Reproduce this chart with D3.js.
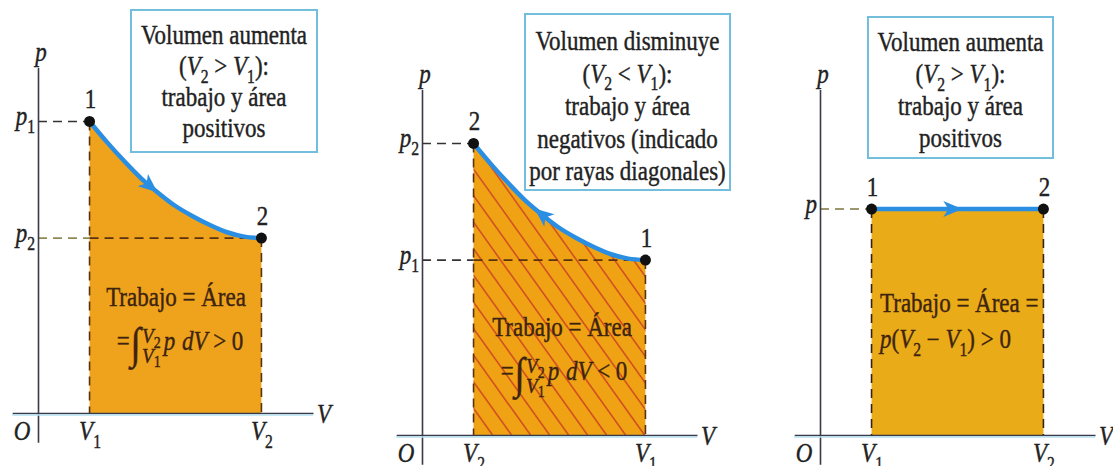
<!DOCTYPE html>
<html>
<head>
<meta charset="utf-8">
<script src="https://cdn.jsdelivr.net/npm/d3@7"></script>
<style>
  html, body { margin: 0; padding: 0; background: #fff; }
  svg { display: block; }
  text { font-family: "Liberation Serif", "Times New Roman", "DejaVu Serif", serif; white-space: pre; }
</style>
</head>
<body>
<svg id="chart" width="1113" height="466"></svg>
<script>
// ---- process data (V and p in arbitrary units) ----
// curved path shared by the expansion (left) and compression (middle) diagrams
const curveV = [3, 4, 5, 6, 7, 8, 9, 10, 11, 12, 13];
const curveP = [20, 18.6, 17.3, 16.1, 15.1, 14.2, 13.5, 12.9, 12.4, 12.1, 12];
// constant-pressure path (right)
const isobarV = [3, 13];
const isobarP = [15.5, 15.5];

const vLow = 3, vHigh = 13;
const pHigh = 20, pLow = 12, pConst = 15.5;

// ---- labels (markup: *..* italic, _x subscript) ----
const boxText1 = ["Volumen aumenta", "(*V*_2 > *V*_1):", "trabajo y área", "positivos"];
const boxText2 = ["Volumen disminuye", "(*V*_2 < *V*_1):", "trabajo y área", "negativos (indicado", "por rayas diagonales)"];
const boxText3 = ["Volumen aumenta", "(*V*_2 > *V*_1):", "trabajo y área", "positivos"];

const pTicks1 = ["*p*_1", "*p*_2"];
const vTicks1 = ["*V*_1", "*V*_2"];
const pTicks2 = ["*p*_2", "*p*_1"];
const vTicks2 = ["*V*_2", "*V*_1"];
const pTicks3 = ["*p*"];
const vTicks3 = ["*V*_1", "*V*_2"];

const workLine = "Trabajo = Área";
const workLine3 = ["Trabajo = Área =", "*p*(*V*_2 − *V*_1) > 0"];

const SY = 1.15;            // serif lettering is set slightly tall
const BLUE = "#2a8ee2";
const INK = "#222";
const BROWN = "#3d2410";

const svg = d3.select("#chart");

function parseMarkup(s) {
  const segs = [];
  let italic = false, buf = "";
  const flush = () => { if (buf) { segs.push({ t: buf, it: italic, shift: 0 }); buf = ""; } };
  for (let i = 0; i < s.length; i++) {
    const c = s[i];
    if (c === "*") { flush(); italic = !italic; }
    else if (c === "_") { flush(); segs.push({ t: s[i + 1], it: false, shift: 1 }); i++; }
    else buf += c;
  }
  flush();
  return segs;
}

function fillRich(text, markup, size) {
  let cur = 0;
  parseMarkup(markup).forEach(seg => {
    const target = seg.shift ? size * 0.3 : 0;
    text.append("tspan")
      .text(seg.t)
      .attr("dy", target - cur)
      .style("font-style", seg.it ? "italic" : "normal")
      .style("font-size", (seg.shift ? size * 0.68 : size) + "px");
    cur = target;
  });
  return text;
}

function ink(t, color) {
  return t.style("fill", color).style("stroke", color).style("stroke-width", 0.35);
}

function richText(parent, x, y, markup, opts = {}) {
  const size = opts.size || 23;
  const g = parent.append("g").attr("transform", `translate(${x},${y}) scale(1,${SY})`);
  const t = g.append("text")
    .attr("text-anchor", opts.anchor || "middle")
    .style("font-size", size + "px");
  ink(t, opts.color || INK);
  fillRich(t, markup, size);
  return t;
}

// "=∫ (V2 over V1) p dV  rel 0"
function integralLine(parent, cx, y, rel, color) {
  const g = parent.append("g").attr("transform", `translate(${cx},${y}) scale(1,${SY})`);
  const t = g.append("text").attr("text-anchor", "middle").style("font-size", "23px");
  ink(t, color);
  t.append("tspan").text("=");
  t.append("tspan").text("∫").style("font-size", "38px").attr("dx", 1).attr("dy", 7);
  t.append("tspan").text("V").style("font-style", "italic").style("font-size", "19px").attr("dx", 1).attr("dy", -13);
  t.append("tspan").text("2").style("font-size", "14px").attr("dy", 4);
  t.append("tspan").text("V").style("font-style", "italic").style("font-size", "19px").attr("dx", -18.6).attr("dy", 13);
  t.append("tspan").text("1").style("font-size", "14px").attr("dy", 4);
  t.append("tspan").text("p").style("font-style", "italic").attr("dx", 3).attr("dy", -15);
  t.append("tspan").text(" ");
  t.append("tspan").text("dV").style("font-style", "italic").attr("dx", 1);
  t.append("tspan").text(` ${rel} 0`);
}

function drawPanel(cfg) {
  const g = svg.append("g").attr("transform", `translate(${cfg.ox},${cfg.oy})`);
  const x = d3.scaleLinear().domain([-1.5, 16]).range([-25.8, 275]);
  const y = d3.scaleLinear().domain([-2, 23.7]).range([29.2, -345.5]);

  const pts = cfg.V.map((v, i) => [v, cfg.P[i]]);
  const curve = pts.length > 2 ? d3.curveMonotoneX : d3.curveLinear;

  // work area under the path
  const area = d3.area().x(d => x(d[0])).y0(y(0)).y1(d => y(d[1])).curve(curve);
  g.append("path").attr("d", area(pts)).attr("fill", cfg.fill);

  // diagonal hatching for negative work
  if (cfg.hatch) {
    const id = "clip-" + cfg.id;
    g.append("clipPath").attr("id", id).append("path").attr("d", area(pts));
    const top = y(pHigh) - 10, bot = y(0), slope = 1.4;
    const x0 = x(d3.min(cfg.V)), x1 = x(d3.max(cfg.V));
    g.append("g").attr("clip-path", `url(#${id})`)
      .selectAll("line")
      .data(d3.range(x0 - (bot - top) / slope, x1 + 5, 19))
      .join("line")
      .attr("x1", d => d).attr("y1", top)
      .attr("x2", d => d + (bot - top) / slope).attr("y2", bot)
      .attr("stroke", "#cf4a2a").attr("stroke-width", 1.6).attr("opacity", 0.9);
  }

  // dashed guides
  const dash = "9,6";
  cfg.guides.forEach(gd => {
    g.append("line")
      .attr("x1", x(gd[0])).attr("y1", y(gd[1]))
      .attr("x2", x(gd[2])).attr("y2", y(gd[3]))
      .attr("stroke", gd[4]).attr("stroke-width", 1.6).attr("stroke-dasharray", dash);
  });

  // axes
  const xAxis = g.append("g")
    .call(d3.axisBottom(x).tickValues(cfg.vTickVals).tickSize(0).tickSizeOuter(0).tickFormat(() => ""));
  const yAxis = g.append("g")
    .call(d3.axisLeft(y).tickValues(cfg.pTickVals).tickSize(0).tickSizeOuter(0).tickFormat(() => ""));
  g.append("line").attr("x1", x(-1.5)).attr("x2", x(16)).attr("y1", 2).attr("y2", 2)
    .attr("stroke", "#b5e0f0").attr("stroke-width", 1.6);
  [xAxis, yAxis].forEach(a => a.attr("font-family", null).attr("font-size", null)
    .select(".domain").attr("stroke", "#3a3a48").attr("stroke-width", 1.6));

  xAxis.selectAll(".tick text").each(function (d, i) {
    const t = d3.select(this).text(null).attr("y", 0).attr("dy", 0)
      .attr("transform", `translate(0,27) scale(1,${SY})`)
      .attr("fill", null).style("font-size", "23px");
    ink(t, INK);
    fillRich(t, cfg.vLabels[i], 23);
  });
  yAxis.selectAll(".tick text").each(function (d, i) {
    const t = d3.select(this).text(null).attr("x", -3).attr("dy", 0)
      .attr("transform", `translate(0,3) scale(1,${SY})`)
      .attr("fill", null).style("font-size", "23px");
    ink(t, INK);
    fillRich(t, cfg.pLabels[i], 23);
  });

  richText(g, -16, 27, "*O*");
  richText(g, x(16) + 4, 10, "*V*", { anchor: "start" });
  richText(g, 3, -352, "*p*");

  // process path
  const line = d3.line().x(d => x(d[0])).y(d => y(d[1])).curve(curve);
  const pathSel = g.append("path").attr("d", line(pts))
    .attr("fill", "none").attr("stroke", BLUE).attr("stroke-width", 4.5).attr("stroke-linecap", "round");

  // direction arrow
  const node = pathSel.node();
  const total = node.getTotalLength();
  let lo = 0, hi = total;
  const tx = x(cfg.arrowV);
  for (let k = 0; k < 40; k++) {
    const mid = (lo + hi) / 2;
    if (node.getPointAtLength(mid).x < tx) lo = mid; else hi = mid;
  }
  const L = (lo + hi) / 2;
  const pa = node.getPointAtLength(Math.max(0, L - 2)), pb = node.getPointAtLength(Math.min(total, L + 2));
  let ang = Math.atan2(pb.y - pa.y, pb.x - pa.x) * 180 / Math.PI;
  if (cfg.reverse) ang += 180;
  const pc = node.getPointAtLength(L);
  g.append("path").attr("d", "M10,0 L-9,-8 L-4,0 L-9,8 Z")
    .attr("transform", `translate(${pc.x},${pc.y}) rotate(${ang})`)
    .attr("fill", BLUE);

  // end states
  cfg.states.forEach(s => {
    g.append("circle").attr("cx", x(s.v)).attr("cy", y(s.p)).attr("r", 5.5).attr("fill", "#111");
    richText(g, x(s.v) + 1, y(s.p) - 13, s.label);
  });

  // work annotation
  cfg.work(g);

  // caption box
  const b = cfg.box;
  svg.append("rect").attr("x", b.x).attr("y", b.y).attr("width", b.w).attr("height", b.h)
    .attr("fill", "#fff").attr("stroke", "#72bedc").attr("stroke-width", 2);
  b.lines.forEach((ln, i) => {
    richText(svg, b.x + b.w / 2, b.base + i * b.step, ln);
  });
}

drawPanel({
  id: "a", ox: 38, oy: 413,
  V: curveV, P: curveP, fill: "#efa31c", hatch: false,
  vTickVals: [vLow, vHigh], vLabels: vTicks1,
  pTickVals: [pHigh, pLow], pLabels: pTicks1,
  guides: [
    [0, pHigh, vLow, pHigh, "#333"],
    [0, pLow, vLow, pLow, "#8f8a55"],
    [vLow, pLow, vHigh, pLow, "#5a3212"],
    [vLow, pHigh, vLow, 0, "#5a3212"],
    [vHigh, pLow, vHigh, 0, "#5a3212"]
  ],
  arrowV: 6.5, reverse: false,
  states: [{ v: vLow, p: pHigh, label: "1" }, { v: vHigh, p: pLow, label: "2" }],
  work: g => {
    richText(g, 138, -107, workLine, { color: BROWN });
    integralLine(g, 142, -63, ">", BROWN);
  },
  box: { x: 131, y: 10, w: 186, h: 142, base: 44, step: 31, lines: boxText1 }
});

drawPanel({
  id: "b", ox: 422, oy: 435,
  V: curveV, P: curveP, fill: "#efa31c", hatch: true,
  vTickVals: [vLow, vHigh], vLabels: vTicks2,
  pTickVals: [pHigh, pLow], pLabels: pTicks2,
  guides: [
    [0, pHigh, vLow, pHigh, "#333"],
    [0, pLow, vLow, pLow, "#333"],
    [vLow, pLow, vHigh, pLow, "#5a3212"],
    [vLow, pHigh, vLow, 0, "#5a3212"],
    [vHigh, pLow, vHigh, 0, "#5a3212"]
  ],
  arrowV: 7.0, reverse: true,
  states: [{ v: vLow, p: pHigh, label: "2" }, { v: vHigh, p: pLow, label: "1" }],
  work: g => {
    richText(g, 140, -99, workLine, { color: BROWN });
    integralLine(g, 142, -55, "<", BROWN);
  },
  box: { x: 525, y: 14, w: 205, h: 176, base: 50, step: 32.5, lines: boxText2 }
});

drawPanel({
  id: "c", ox: 820, oy: 435,
  V: isobarV, P: isobarP, fill: "#eaab18", hatch: false,
  vTickVals: [vLow, vHigh], vLabels: vTicks3,
  pTickVals: [pConst], pLabels: pTicks3,
  guides: [
    [0, pConst, vLow, pConst, "#7d7640"],
    [vLow, pConst, vLow, 0, "#3a2410"],
    [vHigh, pConst, vHigh, 0, "#3a2410"]
  ],
  arrowV: 7.7, reverse: false,
  states: [{ v: vLow, p: pConst, label: "1" }, { v: vHigh, p: pConst, label: "2" }],
  work: g => {
    richText(g, 60, -123, workLine3[0], { color: BROWN, anchor: "start" });
    richText(g, 60, -87, workLine3[1], { color: BROWN, anchor: "start" });
  },
  box: { x: 868, y: 17, w: 185, h: 141, base: 51, step: 32, lines: boxText3 }
});
</script>
</body>
</html>
